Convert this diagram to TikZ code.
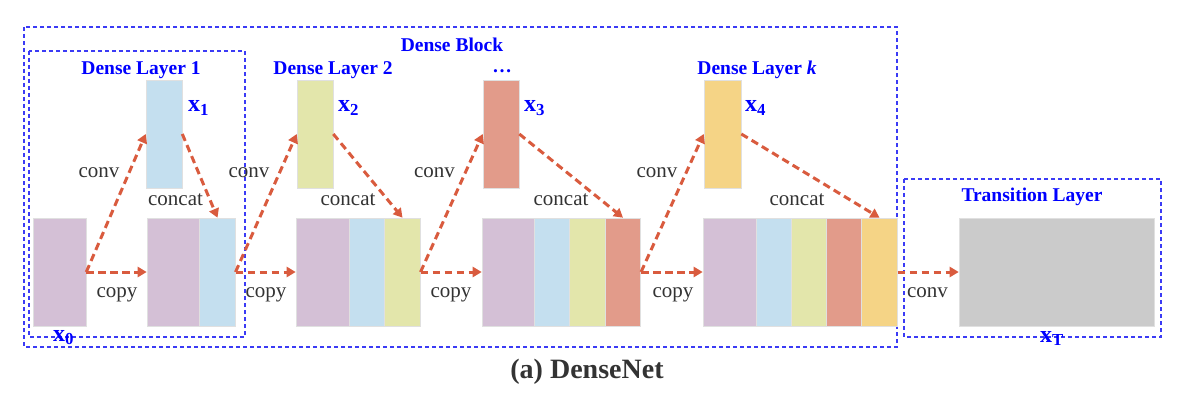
\documentclass[tikz,border=0pt]{standalone}
\usepackage{fontspec}
\setmainfont{Liberation Serif}
\usetikzlibrary{arrows.meta}
\definecolor{cpurple}{HTML}{D4C0D6}
\definecolor{cblue}{HTML}{C4DFEF}
\definecolor{cyellow}{HTML}{E3E6AB}
\definecolor{cred}{HTML}{E29B8A}
\definecolor{corange}{HTML}{F5D486}
\definecolor{cgray}{HTML}{CBCBCB}
\definecolor{carrow}{HTML}{D95B3E}
\definecolor{cbox}{HTML}{3B3BF5}
\definecolor{ctext}{HTML}{333333}

\begin{document}
\begin{tikzpicture}[x=1pt,y=-1pt,
  col/.style={draw=black!12,line width=0.6pt,inner sep=0pt,minimum height=108pt},
  wide/.style={col,minimum width=53pt},
  thin/.style={col,minimum width=35.5pt},
  arrow/.style={carrow,line width=3pt,dash pattern=on 7.5pt off 4.5pt,-{Triangle[length=9pt,width=10pt]}},
  region/.style={cbox,line width=1.1pt,dash pattern=on 4pt off 3pt},
  lbl/.style={text=ctext,font=\fontsize{21pt}{21pt}\selectfont,anchor=base,inner sep=0pt},
  title/.style={text=blue,font=\fontsize{19.5pt}{19.5pt}\selectfont\bfseries,anchor=base,inner sep=0pt},
  xname/.style={text=blue,font=\fontsize{24pt}{24pt}\selectfont\bfseries,anchor=base west,inner sep=0pt}]
	\useasboundingbox (0,0) rectangle (1177,409);

	\draw[region] (24,27) rectangle (897,347);
	\draw[region] (29,51) rectangle (245,337);
	\draw[region] (904,179) rectangle (1161,337);

	\node[wide,fill=cpurple] (x0) at (59.5,272) {};

	\node[thin,fill=cblue,minimum width=36pt] (x1) at (164,134) {};
	\node[wide,fill=cpurple] (b1a) at (173.5,272) {};
	\node[thin,fill=cblue] (b1b) at (217.5,272) {};

	\node[thin,fill=cyellow,minimum width=36pt] (x2) at (315,134) {};
	\node[wide,fill=cpurple] (b2a) at (322.5,272) {};
	\node[thin,fill=cblue] (b2b) at (367,272) {};
	\node[thin,fill=cyellow] (b2c) at (402.5,272) {};

	\node[thin,fill=cred,minimum width=36pt] (x3) at (501,134) {};
	\node[wide,fill=cpurple] (b3a) at (508.5,272) {};
	\node[thin,fill=cblue] (b3b) at (552.5,272) {};
	\node[thin,fill=cyellow] (b3c) at (587.5,272) {};
	\node[thin,fill=cred] (b3d) at (623,272) {};

	\node[thin,fill=corange,minimum width=37pt] (x4) at (722.5,134) {};
	\node[wide,fill=cpurple,minimum width=54pt] (b4a) at (730,272) {};
	\node[thin,fill=cblue] (b4b) at (774.5,272) {};
	\node[thin,fill=cyellow] (b4c) at (809.5,272) {};
	\node[thin,fill=cred] (b4d) at (844.5,272) {};
	\node[thin,fill=corange] (b4e) at (879.5,272) {};

	\node[col,fill=cgray,minimum width=195pt] (xt) at (1056.5,272) {};

	\node[title] (tblock) at (452,52) {Dense Block};
	\node[title] (tl1) at (141,75) {Dense Layer 1};
	\node[title] (tl2) at (333,75) {Dense Layer 2};
	\node[title] (tl3) at (502,73) {\ldots};
	\node[title] (tlk) at (757,75) {Dense Layer \textit{k}};
	\node[title] (ttr) at (1032,201) {Transition Layer};

	\node[xname] (n0) at (53,341) {x\textsubscript{0}};
	\node[xname] (n1) at (188,112) {x\textsubscript{1}};
	\node[xname] (n2) at (338,112) {x\textsubscript{2}};
	\node[xname] (n3) at (524,112) {x\textsubscript{3}};
	\node[xname] (n4) at (745,112) {x\textsubscript{4}};
	\node[xname] (nt) at (1040,342) {x\textsubscript{T}};

	\node[lbl] (conv1) at (99,177) {conv};
	\node[lbl] (conv2) at (249,177) {conv};
	\node[lbl] (conv3) at (434.5,177) {conv};
	\node[lbl] (conv4) at (657,177) {conv};
	\node[lbl] (cat1) at (175.5,205) {concat};
	\node[lbl] (cat2) at (348,205) {concat};
	\node[lbl] (cat3) at (561,205) {concat};
	\node[lbl] (cat4) at (797,205) {concat};
	\node[lbl] (copy1) at (117,297) {copy};
	\node[lbl] (copy2) at (266,297) {copy};
	\node[lbl] (copy3) at (451,297) {copy};
	\node[lbl] (copy4) at (673,297) {copy};
	\node[lbl] (convt) at (927.5,297) {conv};

	\draw[arrow] (x0.east) -- (x1.west);
	\draw[arrow] (x1.east) -- (b1b.north);
	\draw[arrow] (x0.east) -- (b1a.west);

	\draw[arrow] (b1b.east) -- (x2.west);
	\draw[arrow] (x2.east) -- (b2c.north);
	\draw[arrow] (b1b.east) -- (b2a.west);

	\draw[arrow] (b2c.east) -- (x3.west);
	\draw[arrow] (x3.east) -- (b3d.north);
	\draw[arrow] (b2c.east) -- (b3a.west);

	\draw[arrow] (b3d.east) -- (x4.west);
	\draw[arrow] (x4.east) -- (b4e.north);
	\draw[arrow] (b3d.east) -- (b4a.west);

	\draw[arrow] (b4e.east) -- (xt.west);

	\node[text=ctext,font=\fontsize{28pt}{28pt}\selectfont\bfseries,anchor=base,inner sep=0pt] (cap) at (587,378) {(a) DenseNet};
\end{tikzpicture}
\end{document}
